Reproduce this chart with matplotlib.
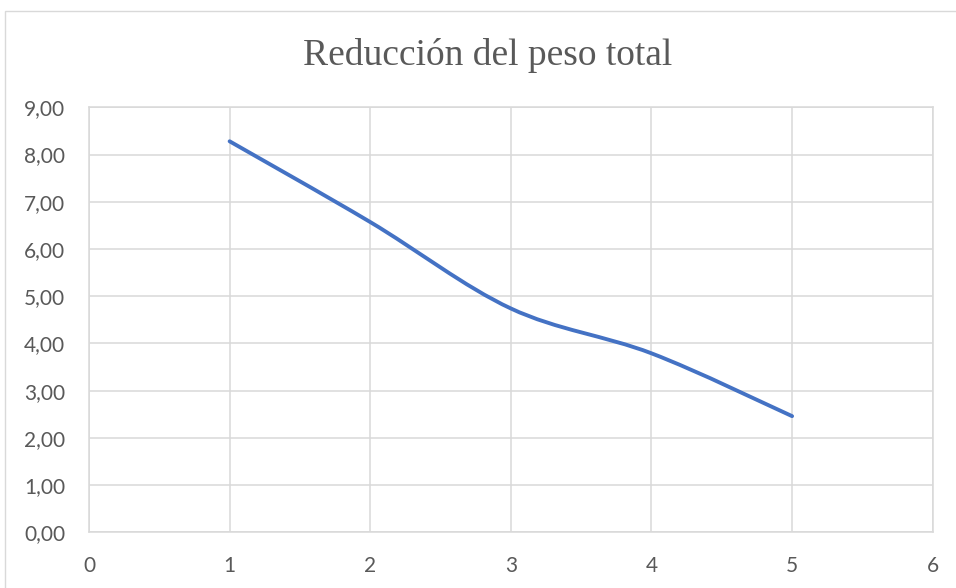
import matplotlib
matplotlib.use("Agg")
import matplotlib.pyplot as plt
from matplotlib.path import Path
from matplotlib.patches import PathPatch, Rectangle
import numpy as np

# Series data
x_vals = [1, 2, 3, 4, 5]
y_vals = [8.28, 6.57, 4.74, 3.79, 2.46]

title = "Reducción del peso total"
x_ticks = [0, 1, 2, 3, 4, 5, 6]
y_ticks = [0, 1, 2, 3, 4, 5, 6, 7, 8, 9]

LINE = "#4472C4"
GRID = "#D9D9D9"
TEXT = "#595959"

W, H = 956, 588
fig = plt.figure(figsize=(W / 100, H / 100), dpi=100)
fig.patch.set_facecolor("white")

# Chart-area frame (left and top edges visible)
fig.patches.append(Rectangle((4.5 / W, -0.1), 1.2, 1.1 - 11.5 / H,
                             transform=fig.transFigure, fill=False,
                             edgecolor=GRID, linewidth=1.0))

ax = fig.add_axes([89 / W, (H - 532.3) / H, (932.7 - 89) / W, (532.3 - 107.3) / H])
ax.set_xlim(0, 6)
ax.set_ylim(0, 9)
ax.set_xticks(x_ticks)
ax.set_yticks(y_ticks)
ax.set_xticklabels([str(t) for t in x_ticks])
ax.set_yticklabels([f"{t:.2f}".replace(".", ",") for t in y_ticks])

ax.grid(True, color=GRID, linewidth=1.1)
ax.set_axisbelow(True)
for side, sp in ax.spines.items():
    sp.set_color(GRID)
    sp.set_linewidth(1.1)
ax.tick_params(length=0, labelcolor=TEXT, labelsize=15)
ax.tick_params(axis="y", pad=17)
ax.tick_params(axis="x", pad=17)
for lab in ax.get_xticklabels() + ax.get_yticklabels():
    lab.set_fontfamily("Lato")

# Smoothed line (cubic Bezier segments as in spreadsheet smoothing)
pts = np.column_stack([x_vals, y_vals]).astype(float)
n = len(pts)
verts = [tuple(pts[0])]
codes = [Path.MOVETO]
for i in range(n - 1):
    p_prev = pts[i - 1] if i > 0 else pts[i]
    p0 = pts[i]
    p1 = pts[i + 1]
    p_next = pts[i + 2] if i + 2 < n else pts[i + 1]
    c1 = p0 + (p1 - p_prev) / 6.0
    c2 = p1 - (p_next - p0) / 6.0
    verts += [tuple(c1), tuple(c2), tuple(p1)]
    codes += [Path.CURVE4] * 3
ax.add_patch(PathPatch(Path(verts, codes), facecolor="none", edgecolor=LINE,
                       linewidth=2.8, capstyle="round", joinstyle="round", zorder=3))

fig.text(487.5 / W, (H - 65) / H, title, ha="center", va="baseline",
         fontsize=27, color=TEXT, family="Liberation Serif")

fig.savefig("out.png", dpi=100, facecolor="white")
